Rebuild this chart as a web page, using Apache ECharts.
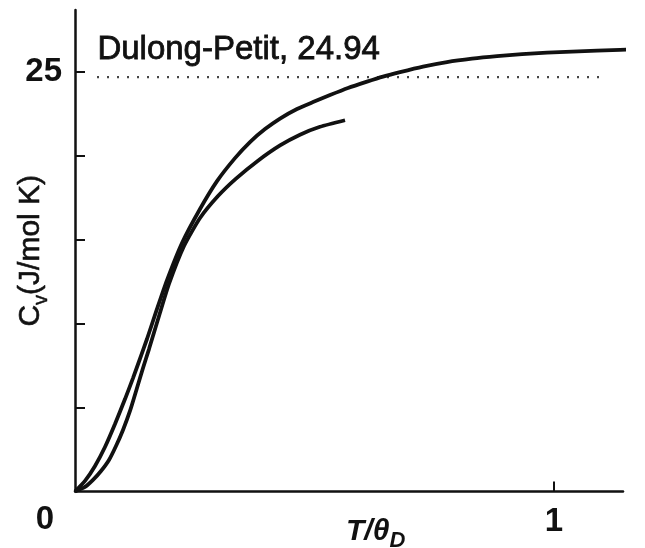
<!DOCTYPE html>
<html lang="en">

<head>
    <meta charset="UTF-8">
    <title>Cv vs T/θD</title>
    <style>
        html, body { margin: 0; padding: 0; background: #fff; }
        #chart { width: 645px; height: 548px; }
    </style>
</head>

<body>
    <div id="chart"></div>
</body>
<script src="https://cdn.jsdelivr.net/npm/echarts@6/dist/echarts.min.js"></script>

<script>
    // curve that runs across the whole range
    var upperX = [0, 0.0209, 0.0418, 0.0626, 0.0835, 0.1044, 0.1211, 0.1378, 0.1503, 0.1712, 0.1921, 0.2234, 0.2610, 0.2965,
        0.3340, 0.3653, 0.3967, 0.4280, 0.4635, 0.4969, 0.5324, 0.5699, 0.6096, 0.6430, 0.6785, 0.7265, 0.7766,
        0.8288, 0.8810, 0.9332, 0.9854, 1.0898, 1.1900]
    var upperY = [0, 0.63, 1.52, 2.65, 4.02, 5.51, 6.76, 8.08, 9.09, 10.88, 12.60, 14.81, 16.84, 18.50,
        19.87, 20.83, 21.60, 22.23, 22.80, 23.21, 23.63, 24.05, 24.43, 24.73, 25.00, 25.33, 25.60,
        25.80, 25.95, 26.07, 26.16, 26.28, 26.37]

    // shorter curve that stops near T/θD = 0.56
    var lowerX = [0, 0.0209, 0.0376, 0.0543, 0.0710, 0.0856, 0.1002, 0.1148, 0.1294, 0.1420, 0.1545, 0.1754, 0.1962,
        0.2276, 0.2610, 0.2985, 0.3361, 0.3820, 0.4280, 0.4697, 0.5115, 0.5637]
    var lowerY = [0, 0.27, 0.69, 1.22, 1.88, 2.71, 3.67, 4.80, 6.17, 7.36, 8.49, 10.46, 12.37,
        14.63, 16.30, 17.61, 18.65, 19.72, 20.63, 21.27, 21.74, 22.13]

    // dotted Dulong-Petit limit
    var limitX = [0.046, 1.11]
    var limitY = [24.7, 24.7]

    var yTicks = [5, 10, 15, 20, 25]
    var yLabels = [25]
    var xTicks = [1]

    function pairs(xs, ys) {
        var out = []
        for (let i = 0; i < xs.length; i++) {
            out.push([xs[i], ys[i]])
        }
        return out
    }

    var font = 'Liberation Sans, Arial, sans-serif'
    var ink = '#111'
    var myChart = echarts.init(document.getElementById('chart'))

    option = {
        backgroundColor: '#fff',
        animation: false,
        grid: { left: 75, right: 22, top: 10, bottom: 56.5, outerBoundsMode: 'none', containLabel: false },
        xAxis: {
            type: 'value',
            min: 0,
            max: 1.144,
            splitLine: { show: false },
            axisLine: { lineStyle: { color: ink, width: 2.5 } },
            axisTick: { inside: true, length: 10, lineStyle: { color: ink, width: 2 }, customValues: xTicks },
            axisLabel: {
                customValues: xTicks, margin: 14,
                color: ink, fontFamily: font, fontWeight: 'bold', fontSize: 33
            }
        },
        yAxis: {
            type: 'value',
            min: 0,
            max: 28.7,
            splitLine: { show: false },
            axisLine: { lineStyle: { color: ink, width: 2.5 } },
            axisTick: { inside: true, length: 10, lineStyle: { color: ink, width: 2 }, customValues: yTicks },
            axisLabel: {
                customValues: yLabels, margin: 13,
                color: ink, fontFamily: font, fontWeight: 'bold', fontSize: 33
            },
            name: '{c|C}{v|v}{r|(J/mol K)}',
            nameLocation: 'middle',
            nameRotate: 90,
            nameGap: 24,
            nameMoveOverlap: false,
            nameTextStyle: {
                rich: {
                    c: { fontFamily: font, fontSize: 30, color: ink, lineHeight: 40, textBorderColor: ink, textBorderWidth: 0.6 },
                    v: { fontFamily: font, fontSize: 20, color: ink, lineHeight: 20, verticalAlign: 'bottom', textBorderColor: ink, textBorderWidth: 0.5 },
                    r: { fontFamily: font, fontSize: 30, color: ink, lineHeight: 40, textBorderColor: ink, textBorderWidth: 0.6 }
                }
            }
        },
        graphic: [
            {
                type: 'text', left: 97, top: 33,
                style: { text: 'Dulong-Petit, 24.94', font: '33px ' + font, fill: ink, stroke: ink, lineWidth: 0.8 }
            },
            {
                type: 'text', x: 45, y: 520,
                style: { text: '0', font: 'bold 33px ' + font, fill: ink, align: 'center', verticalAlign: 'middle' }
            },
            {
                type: 'text', x: 346, y: 512,
                style: {
                    text: '{t|T/θ}{d|D}',
                    rich: {
                        t: { font: 'italic bold 30px ' + font, fill: ink, lineHeight: 40 },
                        d: { font: 'italic bold 22px ' + font, fill: ink, lineHeight: 22, verticalAlign: 'bottom' }
                    }
                }
            }
        ],
        series: [
            {
                type: 'line',
                data: pairs(limitX, limitY),
                symbol: 'none',
                lineStyle: { color: '#444', width: 2.2, type: [2, 8] }
            },
            {
                type: 'line',
                data: pairs(upperX, upperY),
                symbol: 'none',
                smooth: 0.2,
                clip: false,
                lineStyle: { color: ink, width: 3.8 }
            },
            {
                type: 'line',
                data: pairs(lowerX, lowerY),
                symbol: 'none',
                smooth: 0.2,
                lineStyle: { color: ink, width: 3.8 }
            }
        ]
    };
    myChart.setOption(option);
</script>

</html>
